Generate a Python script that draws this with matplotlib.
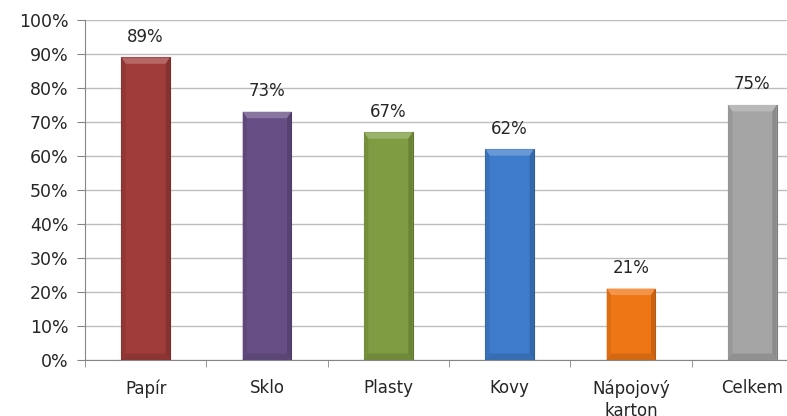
import numpy as np
import matplotlib.pyplot as plt
from matplotlib.patches import Polygon
from matplotlib.colors import to_rgb

# recycling rates by material
categories = ['Papír', 'Sklo', 'Plasty', 'Kovy', 'Nápojový\nkarton', 'Celkem']
values = [89, 73, 67, 62, 21, 75]
colors = ['#A03C3A', '#674F85', '#7F9C42', '#3E7CCB', '#EF7614', '#A5A5A5']
y_ticks = list(range(0, 101, 10))


def shade(color, amount):
    # amount > 0 lightens towards white, < 0 darkens towards black
    c = np.array(to_rgb(color))
    if amount > 0:
        return tuple(c + (1 - c) * amount)
    return tuple(c * (1 + amount))


plt.rcParams['font.family'] = 'DejaVu Sans'
fig = plt.figure(figsize=(7.87, 4.16), dpi=100)
ax = fig.add_axes([85 / 787, 56 / 416, 728 / 787, 340 / 416])

x = np.arange(len(categories))
bar_w = 0.40
bars = ax.bar(x, values, width=bar_w, color=colors, zorder=3,
              edgecolor=[shade(c, -0.25) for c in colors], linewidth=0.8)

# bevel effect on every bar: light top, darker sides and bottom
bx, by = 0.035, 1.9
for rect, col in zip(bars, colors):
    x0 = rect.get_x()
    x1 = x0 + rect.get_width()
    h = rect.get_height()
    top = [(x0, h), (x1, h), (x1 - bx, h - by), (x0 + bx, h - by)]
    left = [(x0, h), (x0 + bx, h - by), (x0 + bx, by), (x0, 0)]
    right = [(x1, h), (x1 - bx, h - by), (x1 - bx, by), (x1, 0)]
    bottom = [(x0, 0), (x1, 0), (x1 - bx, by), (x0 + bx, by)]
    ax.add_patch(Polygon(top, closed=True, color=shade(col, 0.22), lw=0, zorder=4))
    ax.add_patch(Polygon(left, closed=True, color=shade(col, -0.08), lw=0, zorder=4))
    ax.add_patch(Polygon(right, closed=True, color=shade(col, -0.16), lw=0, zorder=4))
    ax.add_patch(Polygon(bottom, closed=True, color=shade(col, -0.12), lw=0, zorder=4))
    ax.text(rect.get_x() + rect.get_width() / 2, h + 3.4, f'{h:.0f}%',
            ha='center', va='bottom', fontsize=12, color='#262626', zorder=5)

ax.set_xlim(-0.5, len(categories) - 0.5)
ax.set_ylim(0, 100)
ax.set_yticks(y_ticks)
ax.set_yticklabels([f'{t}%' for t in y_ticks], fontsize=12.5, color='#262626')
ax.set_xticks(x)
ax.set_xticklabels(categories, fontsize=12, color='#262626', linespacing=1.3)
ax.set_xticks(np.arange(-0.5, len(categories), 1), minor=True)

ax.yaxis.grid(True, color='#BEBEBE', linewidth=1, zorder=0)
ax.tick_params(axis='y', length=6, color='#868686', pad=6)
ax.tick_params(axis='x', which='major', length=0, pad=14)
ax.tick_params(axis='x', which='minor', length=5, color='#868686')

for side in ['top', 'right']:
    ax.spines[side].set_visible(False)
for side in ['left', 'bottom']:
    ax.spines[side].set_color('#868686')

fig.savefig('out.png', dpi=100)
